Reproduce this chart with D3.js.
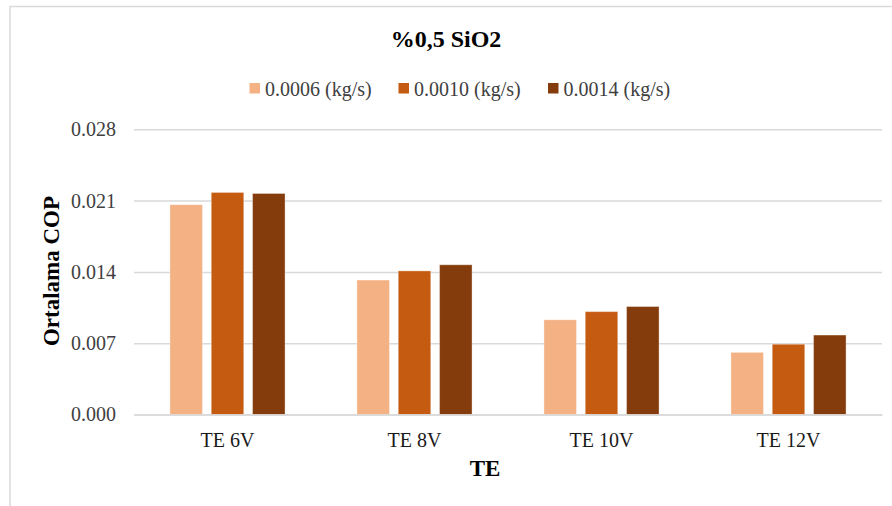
<!DOCTYPE html>
<html><head><meta charset="utf-8">
<script src="https://cdn.jsdelivr.net/npm/d3@7"></script>
<style>html,body{margin:0;padding:0;background:#fff;}svg{display:block;}</style>
</head><body>
<svg id="chart" width="892" height="506"></svg>
<script>
const categories = ["TE 6V", "TE 8V", "TE 10V", "TE 12V"];
const seriesNames = ["0.0006 (kg/s)", "0.0010 (kg/s)", "0.0014 (kg/s)"];
const s0006 = [0.0206, 0.0132, 0.0093, 0.0061];
const s0010 = [0.0218, 0.0141, 0.0101, 0.0069];
const s0014 = [0.0217, 0.0147, 0.0106, 0.0078];
const yTicks = [0, 0.007, 0.014, 0.021, 0.028];
const colors = ["#F4B183", "#C55A11", "#843C0C"];
const title = "%0,5 SiO2";
const yTitle = "Ortalama COP";
const xTitle = "TE";

const seriesVals = [s0006, s0010, s0014];
const svg = d3.select("#chart");
const font = "'Liberation Serif','Times New Roman',serif";

// frame
svg.append("rect").attr("x", 10).attr("y", 6.5).attr("width", 900).attr("height", 520)
  .attr("fill", "none").attr("stroke", "#d9d9d9").attr("stroke-width", 1.5);

const pLeft = 134, pRight = 882, pTop = 129.3, pBottom = 414.5;
const x0 = d3.scaleBand().domain(categories).range([pLeft, pRight]).paddingInner(0.3845).paddingOuter(0.3845 / 2);
const x1 = d3.scaleBand().domain(seriesNames).range([0, x0.bandwidth()]).paddingInner(0.213).paddingOuter(0);
const y = d3.scaleLinear().domain([0, 0.028]).range([pBottom, pTop]);

// gridlines
const yAxis = d3.axisLeft(y).tickValues(yTicks).tickFormat(d3.format(".3f")).tickSize(-(pRight - pLeft)).tickPadding(18);
const gy = svg.append("g").attr("transform", `translate(${pLeft},0)`).call(yAxis);
gy.select(".domain").remove();
gy.selectAll(".tick line").attr("stroke", "#d9d9d9").attr("stroke-width", 1.5);
gy.selectAll(".tick text").attr("font-family", font).attr("font-size", 20).attr("fill", "#404040");

// bars
const groups = svg.append("g").selectAll("g").data(categories).join("g")
  .attr("transform", d => `translate(${x0(d)},0)`);
groups.selectAll("rect").data((c, ci) => seriesNames.map((s, si) => ({s, si, v: seriesVals[si][ci]})))
  .join("rect")
  .attr("x", d => x1(d.s)).attr("width", x1.bandwidth())
  .attr("y", d => y(d.v)).attr("height", d => y(0) - y(d.v))
  .attr("fill", d => colors[d.si])
  .attr("stroke", "#ffffff").attr("stroke-opacity", 0.35).attr("stroke-width", 1);

// x axis
const xAxis = d3.axisBottom(x0).tickSize(0).tickPadding(18);
const gx = svg.append("g").attr("transform", `translate(0,${pBottom})`).call(xAxis);
gx.select(".domain").attr("stroke", "#d9d9d9").attr("stroke-width", 1.5);
gx.selectAll(".tick text").attr("font-family", font).attr("font-size", 20).attr("fill", "#1a1a1a");

// title
svg.append("text").attr("x", 446).attr("y", 47).attr("text-anchor", "middle")
  .attr("font-family", font).attr("font-size", 24).attr("font-weight", "bold").text(title);

// axis titles
svg.append("text").attr("x", 485).attr("y", 476).attr("text-anchor", "middle")
  .attr("font-family", font).attr("font-size", 23).attr("font-weight", "bold").text(xTitle);
svg.append("text").attr("transform", "translate(58.5,271) rotate(-90)").attr("text-anchor", "middle")
  .attr("font-family", font).attr("font-size", 23).attr("font-weight", "bold").text(yTitle);

// legend
const legendX = [249.5, 398.5, 548];
const lg = svg.append("g").selectAll("g").data(seriesNames).join("g")
  .attr("transform", (d, i) => `translate(${legendX[i]},0)`);
lg.append("rect").attr("x", 0).attr("y", 83).attr("width", 10.5).attr("height", 10.5).attr("fill", (d, i) => colors[i]);
lg.append("text").attr("x", 15.5).attr("y", 96).attr("font-family", font).attr("font-size", 20)
  .attr("fill", "#404040").text(d => d);
</script>
</body></html>
